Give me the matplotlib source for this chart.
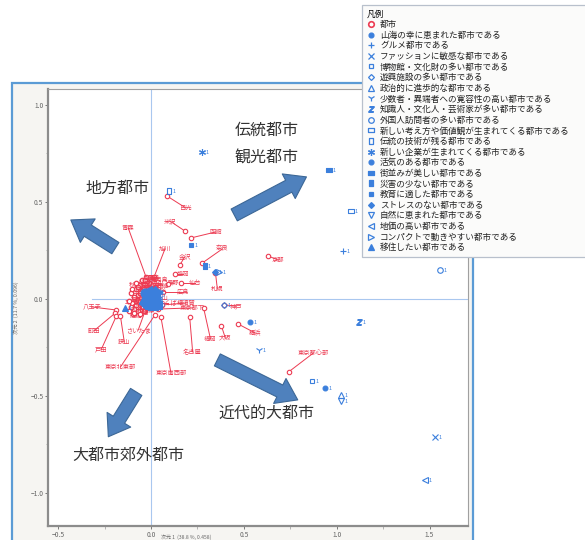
import matplotlib
matplotlib.use("Agg")
import matplotlib.pyplot as plt
from matplotlib.patches import Rectangle
from matplotlib.lines import Line2D
from matplotlib.path import Path
from matplotlib.ticker import MultipleLocator

plt.rcParams['font.family'] = ['Noto Sans CJK JP', 'DejaVu Sans']

# ---------------------------------------------------------------- data
# cities (row points) with a leader line to their label
city_names = ["青森", "旭川", "日光", "米沢", "函館", "金沢", "奈良", "京都", "札幌",
              "盛岡", "仙台", "長野", "広島", "つくば", "横須賀", "東京都下", "福岡",
              "名古屋", "東京南西部", "東京北東部", "大阪", "横浜", "神戸", "東京都心部",
              "八王子", "町田", "戸田", "狭山", "さいたま", "平塚", "船橋", "秋田"]
city_x = [-0.027, 0.016, 0.085, 0.181, 0.213, 0.155, 0.277, 0.629, 0.347,
          0.128, 0.160, 0.091, 0.064, 0.021, 0.060, 0.037, 0.283,
          0.208, 0.053, 0.021, 0.379, 0.469, 0.395, 0.741,
          -0.187, -0.192, -0.187, -0.165, -0.032, -0.069, -0.096, -0.043]
city_y = [0.113, 0.113, 0.531, 0.351, 0.314, 0.175, 0.186, 0.222, 0.134,
          0.129, 0.082, 0.077, 0.036, -0.021, -0.031, -0.052, -0.046,
          -0.093, -0.093, -0.082, -0.139, -0.129, -0.031, -0.376,
          -0.057, -0.072, -0.088, -0.088, -0.062, -0.005, -0.077, 0.062]

# cities packed around the origin (labels set right next to the point)
core_names = ["宇都宮", "前橋", "水戸", "甲府", "新潟", "富山", "福井", "岐阜", "静岡",
              "浜松", "津", "大津", "和歌山", "鳥取", "松江", "山口", "徳島", "高松",
              "松山", "高知", "佐賀", "長崎", "熊本", "大分", "宮崎", "鹿児島", "那覇",
              "山形", "福島", "千葉", "川崎", "相模原", "川越", "所沢", "柏"]
core_x = [-0.06, -0.04, -0.08, -0.02, -0.05, -0.01, -0.07, -0.03, -0.09,
          -0.06, -0.04, -0.10, -0.02, -0.08, -0.05, -0.11, -0.03, 0.00,
          -0.07, -0.12, -0.09, 0.02, -0.04, -0.06, -0.10, -0.02, -0.05,
          -0.08, -0.03, -0.11, -0.07, -0.09, -0.04, -0.12, -0.06]
core_y = [0.07, 0.09, 0.05, 0.06, 0.04, 0.08, 0.02, 0.03, 0.01,
          -0.01, 0.01, -0.02, 0.00, -0.03, -0.04, 0.03, -0.02, 0.04,
          0.06, -0.01, -0.05, 0.06, 0.05, 0.03, 0.05, 0.09, 0.10,
          0.08, 0.10, -0.04, -0.06, -0.07, -0.06, -0.06, -0.08]

# attributes (column points): level "1" and level "0"
attr_names = ["山海の幸に恵まれた都市である", "グルメ都市である", "ファッションに敏感な都市である",
              "博物館・文化財の多い都市である", "遊興施設の多い都市である", "政治的に進歩的な都市である",
              "少数者・異端者への寛容性の高い都市である", "知識人・文化人・芸術家が多い都市である",
              "外国人訪問者の多い都市である", "新しい考え方や価値観が生まれてくる都市である",
              "伝統の技術が残る都市である", "新しい企業が生まれてくる都市である", "活気のある都市である",
              "街並みが美しい都市である", "災害の少ない都市である", "教育に適した都市である",
              "ストレスのない都市である", "自然に恵まれた都市である", "地価の高い都市である",
              "コンパクトで動きやすい都市である", "移住したい都市である"]
attr1_x = [0.533, 1.035, 1.531, 0.869, 0.395, 1.024, 0.581, 1.120, 1.557, 1.077, 0.096,
           0.277, 0.939, 0.960, 0.288, 0.213, 0.347, 1.024, 1.477, 0.368, -0.139]
attr1_y = [-0.119, 0.247, -0.711, -0.423, -0.031, -0.495, -0.263, -0.119, 0.149, 0.454, 0.557,
           0.758, -0.459, 0.665, 0.170, 0.278, 0.139, -0.526, -0.933, 0.139, -0.046]
attr0_x = [0.01, -0.02, 0.03, -0.01, 0.02, -0.04, 0.00, 0.04, -0.03, 0.01, 0.03,
           -0.02, 0.00, 0.02, -0.01, 0.04, -0.04, 0.01, -0.02, 0.03, 0.00]
attr0_y = [0.02, 0.01, -0.01, -0.03, 0.04, 0.00, -0.01, 0.02, 0.03, -0.04, 0.00,
           -0.02, 0.03, -0.02, 0.00, -0.03, -0.02, 0.01, 0.04, 0.03, -0.02]

# interpretive overlay: region names and arrow directions
region_names = ["伝統都市", "観光都市", "地方都市", "近代的大都市", "大都市郊外都市"]

# ---------------------------------------------------------------- styles
RED = "#ec3b52"
BLUE = "#3b7fdc"
ARROW_FC = "#4f81bd"
ARROW_EC = "#3c6796"


def rect_marker(w, h):
    verts = [(-w, -h), (w, -h), (w, h), (-w, h), (-w, -h)]
    codes = [Path.MOVETO, Path.LINETO, Path.LINETO, Path.LINETO, Path.CLOSEPOLY]
    return Path(verts, codes)


WIDE = rect_marker(1.0, 0.5)
TALL = rect_marker(0.5, 1.0)
# (marker, filled, size)
attr_style = [("o", True, 3.5), ("+", False, 4.5), ("x", False, 4), ("s", False, 3.5),
              ("D", False, 3), ("^", False, 4), ("1", False, 5), ("$Z$", False, 4),
              ("o", False, 4), (WIDE, False, 5), (TALL, False, 5), ((6, 2, 0), False, 5),
              ("o", True, 3.5), (WIDE, True, 5), (TALL, True, 5), ("s", True, 3.5),
              ("D", True, 3), ("v", False, 4), ("<", False, 4), (">", False, 4),
              ("^", True, 4)]

# ---------------------------------------------------------------- figure
W, H = 585, 540
fig = plt.figure(figsize=(W / 100, H / 100), dpi=100)
fig.patch.set_facecolor("white")

# grey panel with blue border behind the plot
fig.add_artist(Rectangle((12 / W, -0.02), (473 - 12) / W, (540 - 83) / H + 0.02,
                         transform=fig.transFigure, fc="#f6f5f2", ec="#5b9bd5",
                         lw=1.6, zorder=-5))

ax = fig.add_axes([48 / W, 1 - 526 / H, 420 / W, 437 / H])
ax.set_facecolor("white")
ax.set_xlim(-0.555, 1.707)
ax.set_ylim(-1.17, 1.082)
ax.xaxis.set_major_locator(MultipleLocator(0.5))
ax.yaxis.set_major_locator(MultipleLocator(0.5))
ax.xaxis.set_minor_locator(MultipleLocator(0.25))
ax.yaxis.set_minor_locator(MultipleLocator(0.25))
ax.tick_params(which="major", labelsize=4.8, colors="#666666", length=2.5, width=0.6, pad=0.8)
ax.tick_params(which="minor", length=1.8, width=0.5, colors="#999999")
for s in ["left", "bottom"]:
    ax.spines[s].set_color("#8c8c8c")
    ax.spines[s].set_linewidth(1.6)
for s in ["top", "right"]:
    ax.spines[s].set_color("#a0a0a0")
    ax.spines[s].set_linewidth(0.8)
ax.set_xlabel("次元 1  (38.8 %, 0.458)", fontsize=3.6, color="#666666")
ax.xaxis.set_label_coords(0.33, -0.019)
ax.xaxis.label.set_va("top")
ax.set_ylabel("次元 2  (11.7 %, 0.096)", fontsize=3.8, color="#666666", labelpad=8)

# origin reference lines
ax.axvline(0, color="#a9c7ef", lw=0.8, zorder=1)
ax.axhline(0, xmin=0.105, xmax=1, color="#a9c7ef", lw=0.8, zorder=1)

# cities with leader lines
label_x = [-0.123, 0.075, 0.187, 0.101, 0.347, 0.181, 0.384, 0.683, 0.357,
           0.171, 0.235, 0.120, 0.171, 0.091, 0.187, 0.224, 0.320,
           0.224, 0.107, -0.165, 0.400, 0.560, 0.459, 0.875,
           -0.320, -0.309, -0.267, -0.144, -0.069, -0.107, -0.080, -0.085]
label_y = [0.366, 0.258, 0.469, 0.402, 0.345, 0.216, 0.258, 0.201, 0.052,
           0.129, 0.082, 0.082, 0.036, -0.021, -0.021, -0.046, -0.206,
           -0.273, -0.381, -0.351, -0.201, -0.175, -0.036, -0.278,
           -0.041, -0.165, -0.258, -0.222, -0.160, -0.021, -0.088, 0.072]
for name, x, y, lx, ly in zip(city_names, city_x, city_y, label_x, label_y):
    ax.plot([x, lx], [y, ly], color=RED, lw=0.7, zorder=3)
    ax.text(lx, ly, name, fontsize=4.5, color=RED, ha="center", va="center", zorder=4)
ax.plot(city_x, city_y, ls="none", marker="o", ms=3.2, mfc="white", mec=RED, mew=0.8, zorder=4)

ax.plot(core_x, core_y, ls="none", marker="o", ms=3.2, mfc="white", mec=RED, mew=0.9, zorder=4)
for name, x, y in zip(core_names, core_x, core_y):
    ax.annotate(name, (x, y), xytext=(1.5, 1), textcoords="offset points",
                fontsize=4.5, color=RED, ha="left", va="center", zorder=4)

# attribute points
for (m, filled, ms), x1, y1, x0, y0 in zip(attr_style, attr1_x, attr1_y, attr0_x, attr0_y):
    kw = dict(ls="none", marker=m, ms=ms, mec=BLUE, mew=0.8,
              mfc=BLUE if filled else "none", zorder=5)
    ax.plot([x1], [y1], **kw)
    ax.annotate("1", (x1, y1), xytext=(2.5, -0.5), textcoords="offset points",
                fontsize=4, color=BLUE, ha="left", va="center", zorder=5)
    kw0 = dict(kw)
    kw0["ms"] = ms + 2.5
    kw0["mfc"] = BLUE
    ax.plot([x0], [y0], **kw0)
    ax.annotate("0", (x0, y0), xytext=(2.5, -0.5), textcoords="offset points",
                fontsize=4, color=BLUE, ha="left", va="center", zorder=5)

# interpretive arrows
arrow_tail = [(-0.192, 0.262), (0.448, 0.433), (0.357, -0.314), (-0.080, -0.479)]
arrow_tip = [(-0.432, 0.407), (0.837, 0.629), (0.790, -0.520), (-0.230, -0.710)]
for tail, tip in zip(arrow_tail, arrow_tip):
    ax.annotate("", xy=tip, xytext=tail, zorder=6, annotation_clip=False,
                arrowprops=dict(arrowstyle="simple,head_length=0.9,head_width=1.25,tail_width=0.6",
                                mutation_scale=16, fc=ARROW_FC, ec=ARROW_EC, lw=0.8,
                                shrinkA=0, shrinkB=0))

region_x = [0.624, 0.624, -0.181, 0.624, -0.123]
region_y = [0.871, 0.727, 0.572, -0.588, -0.804]
for name, x, y in zip(region_names, region_x, region_y):
    ax.text(x, y, name, fontsize=11.5, color="#333333", ha="center", va="center", zorder=7)

# legend
handles = [Line2D([], [], ls="none", marker="o", ms=4, mfc="white", mec=RED, mew=1.2)]
for (m, filled, ms) in attr_style:
    handles.append(Line2D([], [], ls="none", marker=m, ms=ms, mec=BLUE, mew=0.9,
                          mfc=BLUE if filled else "none"))
labels = ["都市"] + attr_names
leg = fig.legend(handles, labels, loc="upper left",
                 bbox_to_anchor=(362 / W, 0, (W + 6 - 362) / W, 1 - 5 / H), mode="expand",
                 fontsize=6.2, title="凡例", title_fontsize=6.2, frameon=True,
                 fancybox=False, edgecolor="#b8c0cc", facecolor="#fbfbfa", framealpha=1,
                 borderpad=0.5, labelspacing=0.19, handlelength=1.0, handletextpad=0.6,
                 alignment="left", borderaxespad=0)
leg.get_frame().set_linewidth(0.9)
for t in leg.get_texts():
    t.set_color("#222222")

fig.savefig("out.png", dpi=100)
